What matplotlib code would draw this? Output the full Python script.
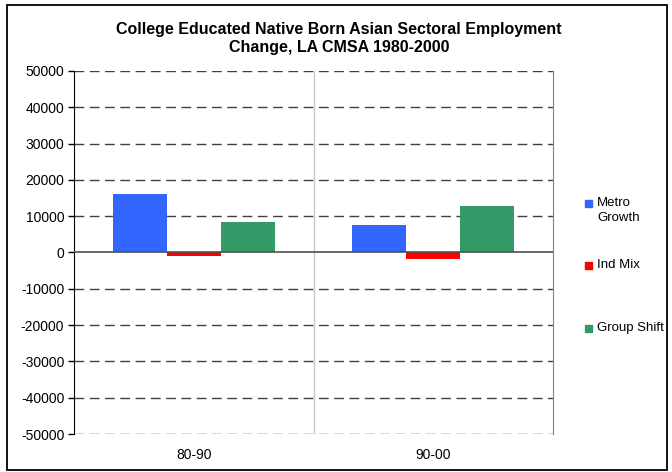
import numpy as np
import matplotlib
matplotlib.use("Agg")
import matplotlib.pyplot as plt
from matplotlib.patches import Rectangle

plt.rcParams['font.family'] = ['Liberation Sans', 'DejaVu Sans']

# data
periods = ['80-90', '90-00']
metro_growth = [16200, 7600]
ind_mix = [-900, -1900]
group_shift = [8500, 12900]

series_names = ['Metro\nGrowth', 'Ind Mix', 'Group Shift']
colors = ['#3366FF', '#FF0000', '#339966']

W, H = 672, 472
fig = plt.figure(figsize=(W / 100, H / 100), dpi=100)

def fx(px):
    return px / W

def fy(py):
    return 1 - py / H

# plot area
ax = fig.add_axes([fx(74), fy(434), fx(553) - fx(74), fy(71) - fy(434)])

x = np.arange(len(periods))
bw = 0.225
for i, (vals, c) in enumerate(zip([metro_growth, ind_mix, group_shift], colors)):
    ax.bar(x + (i - 1) * bw, vals, width=bw, color=c, zorder=3)

ax.set_xlim(-0.5, len(periods) - 0.5)
ax.set_ylim(-50000, 50000)
ax.set_yticks(np.arange(-50000, 50001, 10000))
ax.set_yticklabels([str(v) for v in range(-50000, 50001, 10000)])
ax.set_xticks(x)
ax.set_xticklabels(periods)

# dashed grid
for v in range(-50000, 50001, 10000):
    if v == 0:
        continue
    ax.axhline(v, color='#404040', lw=1, ls=(0, (7, 4)), zorder=1)
ax.axhline(0, color='#505050', lw=1.2, zorder=4)
ax.axvline(0.5, color='#c8c8c8', lw=1, zorder=1)

for s in ['top', 'bottom']:
    ax.spines[s].set_visible(False)
ax.spines['left'].set_color('black')
ax.spines['right'].set_color('#808080')

ax.tick_params(axis='y', labelsize=10, length=4, width=1, direction='out', pad=3)
ax.tick_params(axis='x', labelsize=10, length=0, pad=10)

fig.text(fx(339), fy(38.5), 'College Educated Native Born Asian Sectoral Employment\nChange, LA CMSA 1980-2000',
         ha='center', va='center', fontsize=11.5, fontweight='bold', linespacing=1.25)

# legend drawn by hand to match spacing
leg_y = [203, 265, 328]
for name, c, yy in zip(series_names, colors, leg_y):
    fig.patches.append(Rectangle((fx(585), fy(yy + 4)), fx(7), fy(0) - fy(7),
                                 transform=fig.transFigure, color=c))
    if '\n' in name:
        fig.text(fx(597), fy(yy - 6), name, ha='left', va='top', fontsize=9.5, linespacing=1.35)
    else:
        fig.text(fx(597), fy(yy), name, ha='left', va='center', fontsize=9.5)

# outer frame
fig.patches.append(Rectangle((fx(7), fy(470)), fx(660), fy(0) - fy(465),
                             transform=fig.transFigure, fill=False, ec='black', lw=1.3))

fig.savefig('out.png', dpi=100)
